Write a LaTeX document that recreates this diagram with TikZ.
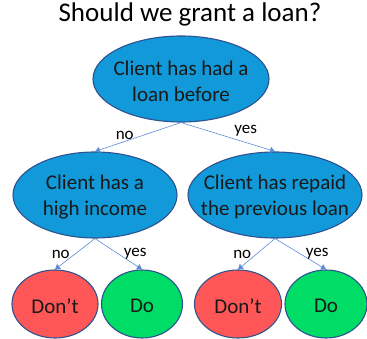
\documentclass[tikz,border=0pt]{standalone}
\usepackage{fontspec}
\setmainfont{Carlito}
\usetikzlibrary{shapes.geometric,arrows.meta,positioning}
\definecolor{fillblue}{HTML}{1199D9}
\definecolor{rim}{HTML}{2F528F}
\definecolor{edgeblue}{HTML}{5B8BD6}
\definecolor{nored}{HTML}{FF5757}
\definecolor{yesgreen}{HTML}{00DD66}
\tikzset{
  question/.style={ellipse, draw=rim, fill=fillblue, line width=1.1pt, minimum height=86pt, inner sep=0pt},
  answer/.style={ellipse, draw=rim, line width=1.1pt, minimum height=68pt, inner sep=0pt},
  txt/.style={font=\fontsize{21}{26}\selectfont, align=center, text=black!90, yshift=-2pt},
  branch/.style={-{Triangle[width=6pt,length=5pt]}, draw=edgeblue, line width=0.6pt},
  lab/.style={font=\fontsize{17}{20}\selectfont, inner sep=2pt}
}

\begin{document}
\begin{tikzpicture}[x=1pt,y=-1pt]
  \useasboundingbox (0,0) rectangle (367,339);

  \node[font=\fontsize{27}{32}\selectfont, anchor=base] (title) at (190,22) {Should we grant a loan?};

  % questions
  \node[question, minimum width=176pt, label={[txt]center:Client has had a\\loan before}] (root) at (181,79) {};
  \node[question, minimum width=164pt, label={[txt]center:Client has a\\high income}] (income) at (95,195) {};
  \node[question, minimum width=174pt, label={[txt]center:Client has repaid\\the previous loan}] (repaid) at (275,195) {};

  % answers
  \node[answer, fill=nored, minimum width=86pt, label={[txt]center:Don't}] (dont1) at (55,304) {};
  \node[answer, fill=yesgreen, minimum width=81pt, label={[txt]center:Do}] (do1) at (142,304) {};
  \node[answer, fill=nored, minimum width=87pt, label={[txt]center:Don't}] (dont2) at (238,304) {};
  \node[answer, fill=yesgreen, minimum width=82pt, label={[txt]center:Do}] (do2) at (326,304) {};

  % branches
  \draw[branch] (root.south) -- (income.north) node[lab, midway, above left=-5pt and 2pt] {no};
  \draw[branch] (root.south) -- (repaid.north) node[lab, midway, above right=-2pt and 4pt] {yes};
  \draw[branch] (income.south) -- (dont1.north) node[lab, midway, left=3pt] {no};
  \draw[branch] (income.south) -- (do1.north) node[lab, midway, right=3pt] {yes};
  \draw[branch] (repaid.south) -- (dont2.north) node[lab, midway, left=3pt] {no};
  \draw[branch] (repaid.south) -- (do2.north) node[lab, midway, right=3pt] {yes};
\end{tikzpicture}
\end{document}
